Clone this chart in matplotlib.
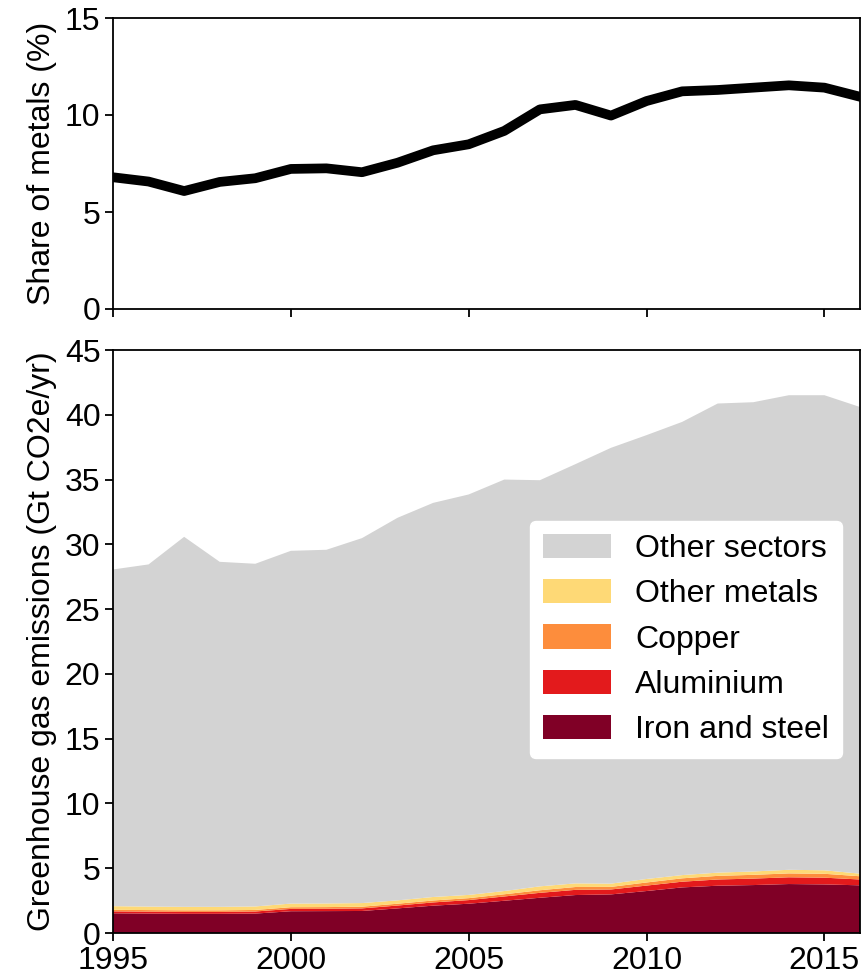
import matplotlib
matplotlib.use("Agg")
import matplotlib.pyplot as plt

plt.rcParams['font.family'] = ['Liberation Sans', 'DejaVu Sans']
plt.rcParams['font.size'] = 23

years = list(range(1995, 2017))

# Share of metals in global GHG emissions (%)
metal_share = [6.79, 6.57, 6.08, 6.55, 6.74, 7.22, 7.25, 7.05, 7.54, 8.18, 8.49,
               9.18, 10.29, 10.52, 9.97, 10.72, 11.22, 11.29, 11.41, 11.53, 11.41, 10.94]

# Emissions by sector (Gt CO2e/yr)
iron_steel = [1.52, 1.50, 1.48, 1.48, 1.50, 1.68, 1.69, 1.70, 1.90, 2.11, 2.26,
              2.49, 2.72, 2.93, 2.98, 3.24, 3.52, 3.65, 3.70, 3.78, 3.75, 3.68]
aluminium = [0.15, 0.15, 0.15, 0.15, 0.16, 0.18, 0.18, 0.20, 0.22, 0.25, 0.28,
             0.33, 0.38, 0.40, 0.38, 0.42, 0.44, 0.48, 0.50, 0.52, 0.52, 0.45]
copper = [0.12, 0.12, 0.12, 0.12, 0.12, 0.13, 0.13, 0.13, 0.14, 0.15, 0.15,
          0.17, 0.20, 0.22, 0.20, 0.24, 0.26, 0.28, 0.29, 0.30, 0.30, 0.25]
other_metals = [0.28, 0.27, 0.27, 0.27, 0.27, 0.28, 0.28, 0.28, 0.26, 0.27, 0.25,
                0.25, 0.30, 0.28, 0.25, 0.27, 0.25, 0.25, 0.26, 0.28, 0.27, 0.20]
other_sectors = [25.99, 26.41, 28.56, 26.63, 26.45, 27.23, 27.30, 28.17, 29.53, 30.42, 30.91,
                 31.76, 31.35, 32.36, 33.64, 34.26, 34.98, 36.21, 36.22, 36.63, 36.67, 36.02]

labels = ["Iron and steel", "Aluminium", "Copper", "Other metals", "Other sectors"]
colors = ["#800026", "#e31a1c", "#fd8d3c", "#fed976", "#d3d3d3"]

fig = plt.figure(figsize=(8.64, 9.8), dpi=100)
W, H = 864, 980
ax1 = fig.add_axes([113 / W, 1 - 309 / H, 747 / W, 291 / H])
ax2 = fig.add_axes([113 / W, 1 - 933 / H, 747 / W, 583 / H])

for ax in (ax1, ax2):
    for s in ax.spines.values():
        s.set_linewidth(1.3)
    ax.tick_params(length=6, width=1.3, pad=3)
    ax.set_xlim(1995, 2016)
    ax.set_xticks([1995, 2000, 2005, 2010, 2015])

ax1.plot(years, metal_share, color="black", linewidth=7)
ax1.set_ylim(0, 15)
ax1.set_yticks([0, 5, 10, 15])
ax1.set_xticklabels([])
ax1.set_ylabel("Share of metals (%)", labelpad=6)

ax2.stackplot(years, iron_steel, aluminium, copper, other_metals, other_sectors,
              labels=labels, colors=colors, linewidth=0)
ax2.set_ylim(0, 45)
ax2.set_yticks(range(0, 46, 5))
ax2.set_ylabel("Greenhouse gas emissions (Gt CO2e/yr)", labelpad=6)

handles, labs = ax2.get_legend_handles_labels()
leg = ax2.legend(handles[::-1], labs[::-1], loc="lower right",
                 bbox_to_anchor=(0.976, 0.30), borderaxespad=0,
                 handlelength=2.15, handleheight=0.8, handletextpad=0.75,
                 labelspacing=0.47, borderpad=0.4, framealpha=1,
                 edgecolor="white", fontsize=23)

fig.savefig("out.png", dpi=100)
